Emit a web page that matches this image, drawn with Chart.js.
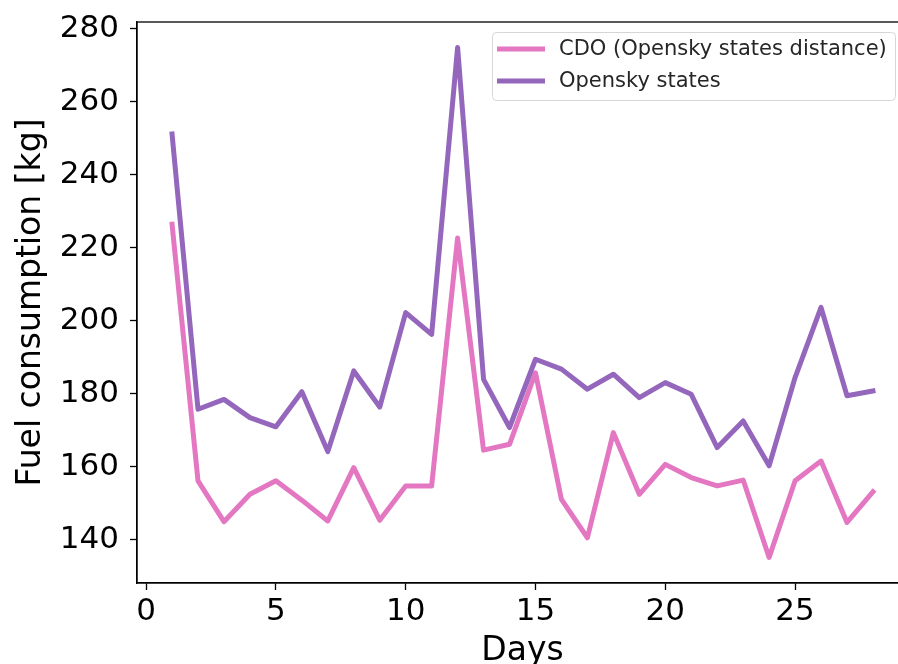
<!DOCTYPE html>
<html>
<head>
<meta charset="utf-8">
<script src="https://cdn.jsdelivr.net/npm/chart.js@4"></script>
<style>
  html, body { margin: 0; padding: 0; background: #fff; overflow: hidden; }
  #wrap { width: 898px; height: 664px; overflow: hidden; }
  canvas { display: block; }
</style>
</head>
<body>
<div id="wrap"><canvas id="c" width="910" height="664"></canvas></div>
<script>
// Daily fuel consumption, one value per day
const days = [1, 2, 3, 4, 5, 6, 7, 8, 9, 10, 11, 12, 13, 14, 15, 16, 17, 18, 19, 20, 21, 22, 23, 24, 25, 26, 27, 28];
const cdoDistance = [226.5, 156.2, 145.0, 152.5, 156.2, 150.9, 145.2, 159.8, 145.4, 154.8, 154.8, 222.7, 164.6, 166.2,
                     185.8, 151.1, 140.6, 169.4, 152.5, 160.7, 157.1, 154.8, 156.4, 135.2, 156.2, 161.6, 144.8, 153.2];
const openskyStates = [251.2, 175.8, 178.5, 173.5, 171.0, 180.6, 164.2, 186.3, 176.4, 202.3, 196.3, 274.9, 184.0, 170.8,
                       189.5, 186.8, 181.3, 185.4, 179.0, 183.1, 179.9, 165.3, 172.6, 160.3, 184.5, 203.7, 179.5, 180.8];
const seriesNames = ['CDO (Opensky states distance)', 'Opensky states'];
const xTicks = [0, 5, 10, 15, 20, 25];
const yTicks = [140, 160, 180, 200, 220, 240, 260, 280];

const FONT = "'DejaVu Sans', 'Liberation Sans', sans-serif";
const pts = vals => days.map((d, i) => ({ x: d, y: vals[i] }));

// Axes frame (all four spines) and a boxed legend inside the upper right
const framePlugin = {
  id: 'frame',
  afterDatasetsDraw(chart) {
    const { ctx, chartArea: a } = chart;
    ctx.save();
    ctx.strokeStyle = '#000';
    ctx.lineWidth = 1.3;
    ctx.strokeRect(a.left, a.top, a.right - a.left, a.bottom - a.top);
    ctx.restore();
  },
  afterDraw(chart) {
    const { ctx } = chart;
    const box = { x: 492.5, y: 32.5, w: 403, h: 68, r: 4 };
    ctx.save();
    ctx.fillStyle = 'rgba(255,255,255,0.8)';
    ctx.strokeStyle = '#d6d6d6';
    ctx.lineWidth = 1;
    ctx.beginPath();
    ctx.roundRect(box.x, box.y, box.w, box.h, box.r);
    ctx.fill();
    ctx.stroke();
    ctx.font = '21px ' + FONT;
    ctx.textBaseline = 'middle';
    ctx.fillStyle = '#262626';
    chart.data.datasets.forEach((ds, i) => {
      const y = 49 + i * 32;
      ctx.strokeStyle = ds.borderColor;
      ctx.lineWidth = 5;
      ctx.beginPath();
      ctx.moveTo(497, y);
      ctx.lineTo(545, y);
      ctx.stroke();
      ctx.fillText(ds.label, 559, y + 1);
    });
    ctx.restore();
  }
};

new Chart(document.getElementById('c'), {
  type: 'line',
  data: {
    datasets: [
      { label: seriesNames[0], data: pts(cdoDistance), borderColor: '#e377c2', order: 1 },
      { label: seriesNames[1], data: pts(openskyStates), borderColor: '#9467bd', order: 0 }
    ]
  },
  options: {
    responsive: false,
    animation: false,
    devicePixelRatio: 1,
    layout: { padding: { top: 22, right: 2, left: 0, bottom: 0 } },
    elements: {
      point: { radius: 0 },
      line: { borderWidth: 5, tension: 0, fill: false, borderCapStyle: 'square', borderJoinStyle: 'round' }
    },
    plugins: { legend: { display: false }, tooltip: { enabled: false } },
    scales: {
      x: {
        type: 'linear',
        min: -0.35,
        max: 29.35,
        afterBuildTicks: s => { s.ticks = xTicks.map(v => ({ value: v })); },
        afterFit: s => { s.height = 81; s.paddingLeft = 0; s.paddingRight = 0; },
        grid: { display: true, drawOnChartArea: false, drawTicks: true, tickLength: 7, color: '#000', tickWidth: 1.3 },
        border: { display: true, color: '#000', width: 1.3 },
        ticks: { color: '#000', font: { family: FONT, size: 31 }, padding: 3, maxRotation: 0 },
        title: { display: true, text: 'Days', color: '#000', font: { family: FONT, size: 33 }, padding: { top: 3, bottom: -7 } }
      },
      y: {
        min: 128.2,
        max: 281.9,
        afterBuildTicks: s => { s.ticks = yTicks.map(v => ({ value: v })); },
        afterFit: s => { s.width = 137; s.paddingTop = 0; s.paddingBottom = 0; },
        grid: { display: true, drawOnChartArea: false, drawTicks: true, tickLength: 7, color: '#000', tickWidth: 1.3 },
        border: { display: true, color: '#000', width: 1.3 },
        ticks: { color: '#000', font: { family: FONT, size: 31 }, padding: 11 },
        title: { display: true, text: 'Fuel consumption [kg]', color: '#000', font: { family: FONT, size: 33 }, padding: { top: 12, bottom: 0 } }
      }
    }
  },
  plugins: [framePlugin]
});
</script>
</body>
</html>
